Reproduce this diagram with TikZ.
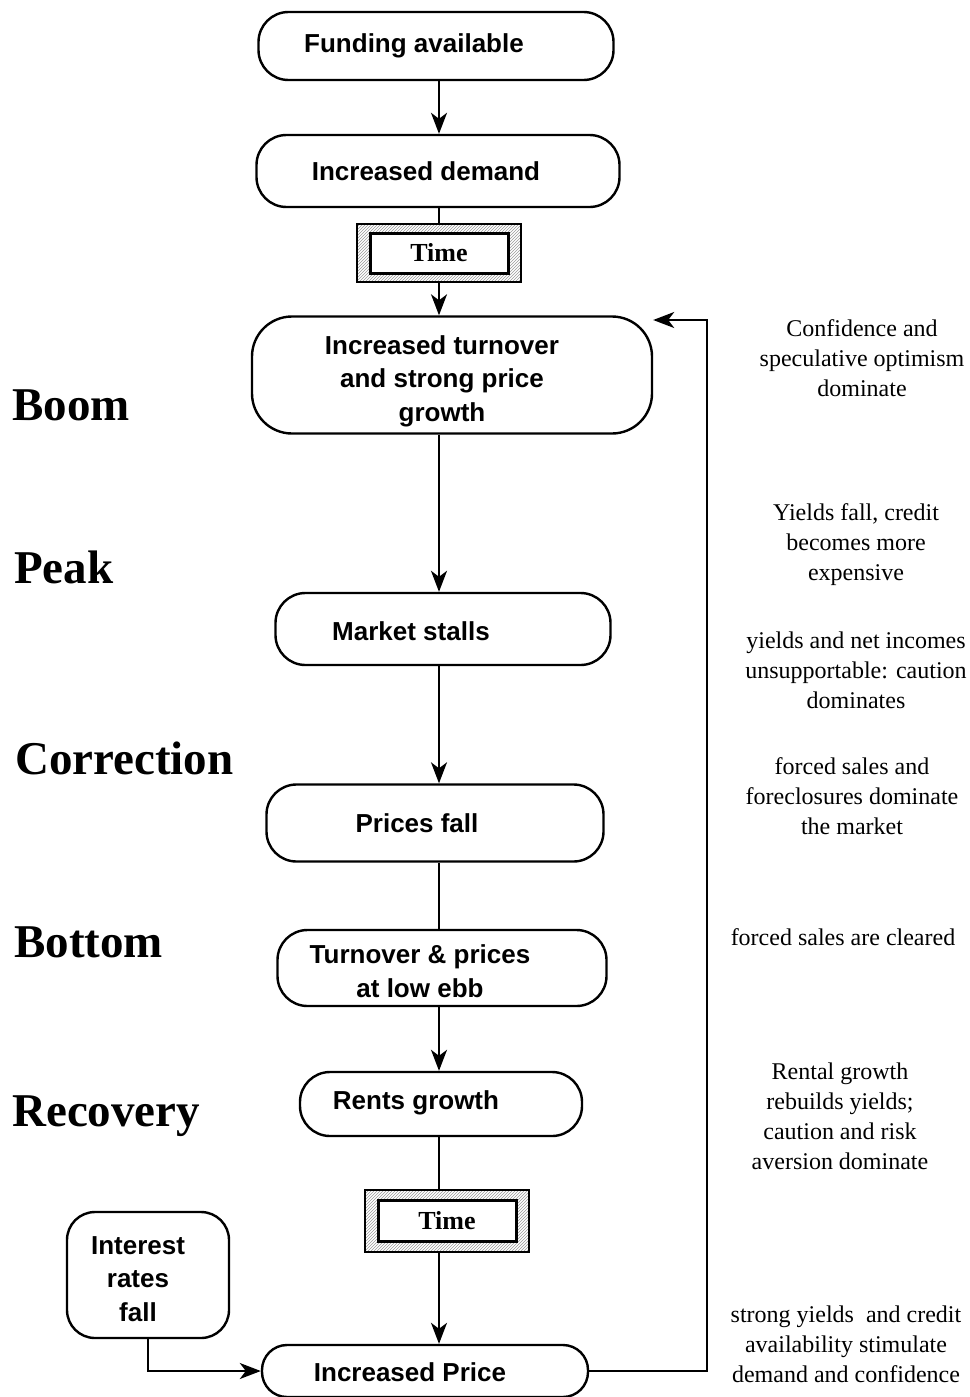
\documentclass[tikz,border=0pt]{standalone}
\usepackage{fontspec}
\setmainfont{Liberation Serif}
\setsansfont{Liberation Sans}
\usetikzlibrary{arrows.meta,patterns}

\begin{document}
\begin{tikzpicture}[x=1pt,y=-1pt,
	pill/.style={draw,line width=2.4pt,rounded corners=30pt},
	boxtext/.style={align=center,inner sep=0pt,font=\sffamily\bfseries\fontsize{26}{33.5}\selectfont},
	hatch/.style={draw,line width=2pt,pattern=north east lines,pattern color=gray!80,minimum width=164pt,minimum height=58pt},
	timebox/.style={draw,fill=white,line width=3pt,minimum width=138pt,minimum height=40pt,inner sep=0pt,font=\rmfamily\bfseries\fontsize{26}{30}\selectfont},
	phase/.style={anchor=west,inner sep=0pt,font=\rmfamily\bfseries\fontsize{47}{50}\selectfont},
	note/.style={align=center,font=\rmfamily\fontsize{24}{30}\selectfont},
	arr/.style={-{Stealth[length=21pt,width=16pt,inset=6pt]},line width=2pt},
	link/.style={line width=2pt}]

	\useasboundingbox (0,0) rectangle (969,1397);
	\coordinate (spine) at (439,0);
	\coordinate (loop) at (707,320);

	% boxes
	\node[pill,minimum width=355pt,minimum height=68pt] (fund) at (436,46) {};
	\node[pill,minimum width=363pt,minimum height=72pt] (dem) at (438,171) {};
	\node[hatch] (t1) at (439,253) {};
	\node[timebox] (t1in) at (t1) {Time};
	\node[pill,rounded corners=40pt,minimum width=400pt,minimum height=117pt] (boom) at (452,375) {};
	\node[pill,minimum width=335pt,minimum height=72pt] (stall) at (443,629) {};
	\node[pill,minimum width=337pt,minimum height=77pt] (fall) at (435,823) {};
	\node[pill,minimum width=329pt,minimum height=76pt] (ebb) at (442,968) {};
	\node[pill,minimum width=282pt,minimum height=64pt] (rent) at (441,1104) {};
	\node[hatch,minimum height=62pt] (t2) at (447,1221) {};
	\node[timebox,minimum height=41pt] (t2in) at (t2) {Time};
	\node[pill,rounded corners=25pt,minimum width=326pt,minimum height=52pt] (price) at (425,1371) {};
	\node[pill,rounded corners=28pt,minimum width=162pt,minimum height=126pt] (rate) at (148,1275) {};

	% box texts
	\node[boxtext] (fundtxt) at (414,46) {Funding available};
	\node[boxtext] (demtxt) at (426,171) {Increased demand};
	\node[boxtext] (boomtxt) at (442,381) {Increased turnover\\and strong price\\growth};
	\node[boxtext] (stalltxt) at (411,631) {Market stalls};
	\node[boxtext] (falltxt) at (417,823) {Prices fall};
	\node[boxtext] (ebbtxt) at (420,971) {Turnover \& prices\\at low ebb};
	\node[boxtext] (renttxt) at (416,1103) {Rents growth};
	\node[boxtext] (pricetxt) at (410,1372) {Increased Price};
	\node[boxtext] (ratetxt) at (138,1279) {Interest\\rates\\fall};

	% phases
	\node[phase] (pboom) at (12,405) {Boom};
	\node[phase] (ppeak) at (14,567) {Peak};
	\node[phase] (pcorr) at (15,758) {Correction};
	\node[phase] (pbott) at (14,942) {Bottom};
	\node[phase] (precv) at (12,1116) {Recovery};

	% comments
	\node[note] (n1) at (862,358) {Confidence and\\speculative optimism\\dominate};
	\node[note] (n2) at (856,545) {Yields fall, credit\\becomes more\\expensive};
	\node[note] (n3) at (856,670) {yields and net incomes\\unsupportable: caution\\dominates};
	\node[note] (n4) at (852,796) {forced sales and\\foreclosures dominate\\the market};
	\node[note] (n5) at (843,937) {forced sales are cleared};
	\node[note] (n6) at (840,1116) {Rental growth\\rebuilds yields;\\caution and risk\\aversion dominate};
	\node[note] (n7) at (846,1344) {strong yields\ \ and credit\\availability stimulate\\demand and confidence};

	\draw[arr] (fund.south -| spine) -- (dem.north -| spine);
	\draw[link] (dem.south -| spine) -- (t1.north -| spine);
	\draw[arr] (t1.south -| spine) -- (boom.north -| spine);
	\draw[arr] (boom.south -| spine) -- (stall.north -| spine);
	\draw[arr] (stall.south -| spine) -- (fall.north -| spine);
	\draw[link] (fall.south -| spine) -- (ebb.north -| spine);
	\draw[arr] (ebb.south -| spine) -- (rent.north -| spine);
	\draw[link] (rent.south -| spine) -- (t2.north -| spine);
	\draw[arr] (t2.south -| spine) -- (price.north -| spine);

	\draw[arr] (price.east) -| (loop) -- (loop -| boom.east);
	\draw[arr] (rate.south) |- (price.west);

\end{tikzpicture}
\end{document}
